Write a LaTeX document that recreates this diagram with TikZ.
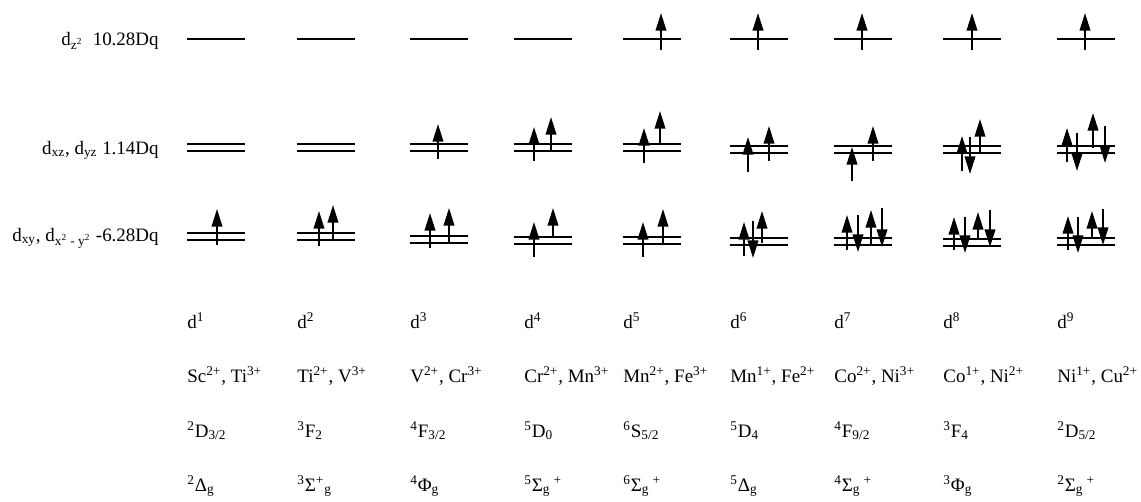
\documentclass[tikz,border=0pt]{standalone}
\usepackage{fontspec}
\setmainfont{Liberation Serif}
\usetikzlibrary{arrows.meta}

\newcommand{\sus}[1]{\textsuperscript{#1}}
\newcommand{\sbs}[1]{\textsubscript{#1}}

\begin{document}
\begin{tikzpicture}[x=0.02cm, y=-0.02cm,
  lvl/.style={line width=1.1pt},
  spin/.style={line width=1.1pt, -{Triangle[length=10pt,width=6pt]}},
  lab/.style={anchor=base east, inner sep=0pt, font=\fontsize{10.8}{13}\selectfont},
  txt/.style={anchor=base west, inner sep=0pt, font=\fontsize{10.8}{13}\selectfont}]
  \useasboundingbox (0,0) rectangle (1141,501);

  % orbital labels
  \node[lab] (eg)  at (159,45)  {d\sbs{z\sus{2}}\enspace 10.28Dq};
  \node[lab] (tg)  at (159,154) {d\sbs{xz}, d\sbs{yz} 1.14Dq};
  \node[lab] (t2g) at (159,241) {d\sbs{xy}, d\sbs{x\sus{2} - y\sus{2}} -6.28Dq};

  % levels: x / middle pair / lower pair
  \foreach \x/\m/\l in {187/144/233, 297/144/233, 410/144/236, 514/144/237,
      623/144/237, 730/146/238, 834/146/238, 943/146/239, 1057/146/238} {
    \draw[lvl] (\x,39) -- ++(58,0);
    \draw[lvl] (\x,\m) -- ++(58,0) (\x,\m+7) -- ++(58,0);
    \draw[lvl] (\x,\l) -- ++(58,0) (\x,\l+7) -- ++(58,0);
  }

  % spins: x / tail / tip
  \foreach \x/\a/\b in {661/50/13, 758/50/13, 862/50/13, 972/50/13, 1085/50/13,
      438/159/124, 534/161/127, 551/151/117, 644/163/128, 660/144/111,
      748/172/137, 769/161/126, 852/181/147, 873/161/126,
      962/171/136, 970/137/174, 980/153/119,
      1067/162/128, 1077/133/171, 1093/148/113, 1105/126/163,
      217/245/209, 319/246/211, 333/239/205, 430/248/213, 449/243/208,
      534/257/222, 553/237/208, 643/257/222, 663/243/209,
      744/256/222, 753/221/258, 762/243/211,
      847/250/215, 858/215/252, 871/245/210, 882/208/247,
      954/250/217, 965/217/253, 978/238/212, 990/210/247,
      1068/250/216, 1078/217/253, 1092/237/211, 1103/209/245}
    \draw[spin] (\x,\a) -- (\x,\b);

  % configuration, ions, J terms, symmetry terms
  \foreach \x/\ion/\jt/\sym [count=\i] in {
      187/{Sc\sus{2+}, Ti\sus{3+}}/{\sus{2}D\sbs{3/2}}/{\sus{2}Δ\sbs{g}},
      297/{Ti\sus{2+}, V\sus{3+}}/{\sus{3}F\sbs{2}}/{\sus{3}Σ\sus{+}\sbs{g}},
      410/{V\sus{2+}, Cr\sus{3+}}/{\sus{4}F\sbs{3/2}}/{\sus{4}Φ\sbs{g}},
      524/{Cr\sus{2+}, Mn\sus{3+}}/{\sus{5}D\sbs{0}}/{\sus{5}Σ\sbs{g}\,\sus{+}},
      623/{Mn\sus{2+}, Fe\sus{3+}}/{\sus{6}S\sbs{5/2}}/{\sus{6}Σ\sbs{g}\,\sus{+}},
      730/{Mn\sus{1+}, Fe\sus{2+}}/{\sus{5}D\sbs{4}}/{\sus{5}Δ\sbs{g}},
      834/{Co\sus{2+}, Ni\sus{3+}}/{\sus{4}F\sbs{9/2}}/{\sus{4}Σ\sbs{g}\,\sus{+}},
      943/{Co\sus{1+}, Ni\sus{2+}}/{\sus{3}F\sbs{4}}/{\sus{3}Φ\sbs{g}},
      1057/{Ni\sus{1+}, Cu\sus{2+}}/{\sus{2}D\sbs{5/2}}/{\sus{2}Σ\sbs{g}\,\sus{+}}} {
    \node[txt] (conf\i) at (\x,328) {d\sus{\i}};
    \node[txt] (ion\i)  at (\x,382) {\ion};
    \node[txt] (term\i) at (\x,437) {\jt};
    \node[txt] (sym\i)  at (\x,491) {\sym};
  }
\end{tikzpicture}
\end{document}
